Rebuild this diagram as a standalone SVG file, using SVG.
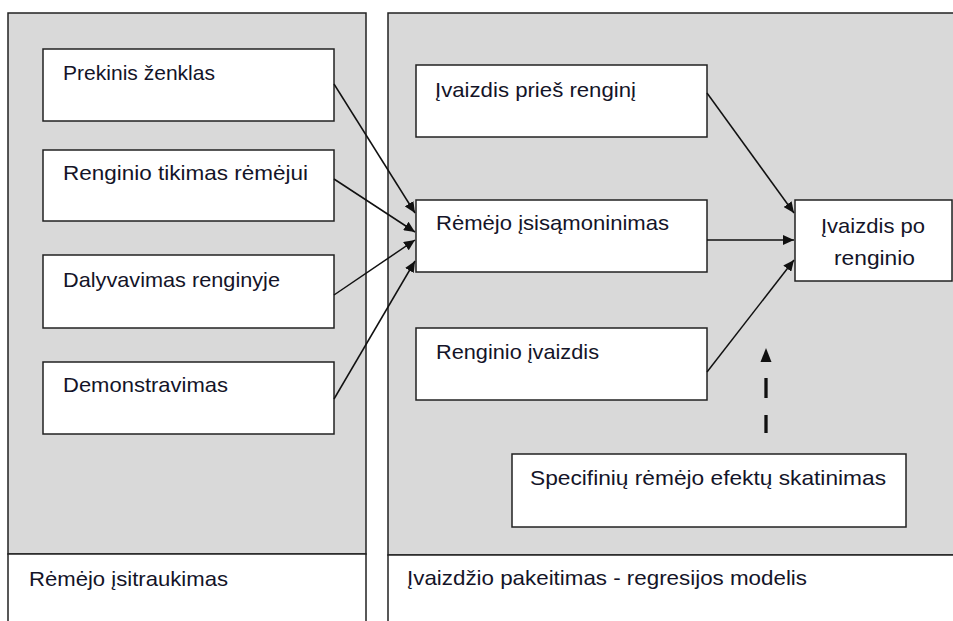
<svg xmlns="http://www.w3.org/2000/svg" width="953" height="621" viewBox="0 0 953 621">
<style>
.panel{fill:#d9d9d9;stroke:#222;stroke-width:1.5}
.foot{fill:#fff;stroke:#222;stroke-width:1.5}
.box{fill:#fff;stroke:#222;stroke-width:1.5}
.t{font-family:"Liberation Sans",Arial,sans-serif;font-size:21px;fill:#141428}
.c{stroke:#111;stroke-width:1.5;fill:none}
</style>
<defs>
<marker id="ah" markerUnits="userSpaceOnUse" markerWidth="12" markerHeight="10" refX="11" refY="5" orient="auto">
<path d="M0,0 L11,5 L0,10 Z" fill="#111"/>
</marker>
</defs>
<g id="panel-left">
<rect class="panel" x="8" y="13" width="358" height="541"/>
<rect class="foot" x="8" y="554" width="358" height="80"/>
<text class="t" x="29" y="586" textLength="199" lengthAdjust="spacingAndGlyphs">Rėmėjo įsitraukimas</text>
</g>
<g id="panel-right">
<rect class="panel" x="388" y="13" width="580" height="542"/>
<rect class="foot" x="388" y="555" width="580" height="80"/>
<text class="t" x="407" y="585" textLength="400" lengthAdjust="spacingAndGlyphs">Įvaizdžio pakeitimas - regresijos modelis</text>
</g>
<g id="n-prekinis">
<rect class="box" x="43" y="49" width="291" height="72"/>
<text class="t" x="63" y="80" textLength="152" lengthAdjust="spacingAndGlyphs">Prekinis ženklas</text>
</g>
<g id="n-tikimas">
<rect class="box" x="43" y="150" width="291" height="71"/>
<text class="t" x="63" y="180" textLength="245" lengthAdjust="spacingAndGlyphs">Renginio tikimas rėmėjui</text>
</g>
<g id="n-dalyvavimas">
<rect class="box" x="43" y="255" width="291" height="73"/>
<text class="t" x="63" y="287" textLength="217" lengthAdjust="spacingAndGlyphs">Dalyvavimas renginyje</text>
</g>
<g id="n-demonstravimas">
<rect class="box" x="43" y="362" width="291" height="72"/>
<text class="t" x="63" y="392" textLength="165" lengthAdjust="spacingAndGlyphs">Demonstravimas</text>
</g>
<g id="n-pries">
<rect class="box" x="416" y="65" width="291" height="72"/>
<text class="t" x="435" y="97" textLength="201" lengthAdjust="spacingAndGlyphs">Įvaizdis prieš  renginį</text>
</g>
<g id="n-isisamoninimas">
<rect class="box" x="416" y="200" width="291" height="72"/>
<text class="t" x="436" y="230" textLength="233" lengthAdjust="spacingAndGlyphs">Rėmėjo įsisąmoninimas</text>
</g>
<g id="n-renginio-ivaizdis">
<rect class="box" x="416" y="328" width="291" height="72"/>
<text class="t" x="436" y="359" textLength="163" lengthAdjust="spacingAndGlyphs">Renginio įvaizdis</text>
</g>
<g id="n-po">
<rect class="box" x="795" y="200" width="157" height="81"/>
<text class="t" x="821" y="233" textLength="104" lengthAdjust="spacingAndGlyphs">Įvaizdis po</text>
<text class="t" x="834" y="265" textLength="81" lengthAdjust="spacingAndGlyphs">renginio</text>
</g>
<g id="n-specifiniu">
<rect class="box" x="512" y="454" width="394" height="73"/>
<text class="t" x="530" y="485" textLength="356" lengthAdjust="spacingAndGlyphs">Specifinių rėmėjo efektų  skatinimas</text>
</g>
<g id="connectors">
<line class="c" x1="334" y1="84" x2="415" y2="213" marker-end="url(#ah)"/>
<line class="c" x1="334" y1="179" x2="415" y2="232" marker-end="url(#ah)"/>
<line class="c" x1="334" y1="295" x2="415" y2="240" marker-end="url(#ah)"/>
<line class="c" x1="334" y1="399" x2="415" y2="261" marker-end="url(#ah)"/>
<line class="c" x1="707" y1="93" x2="794" y2="213" marker-end="url(#ah)"/>
<line class="c" x1="707" y1="240" x2="794" y2="240" marker-end="url(#ah)"/>
<line class="c" x1="707" y1="372" x2="794" y2="260" marker-end="url(#ah)"/>
<line x1="766" y1="433" x2="766" y2="362" stroke="#111" stroke-width="3.3" stroke-dasharray="18 17 20 40"/>
<path d="M766,348 L760.5,362 L771.5,362 Z" fill="#111"/>
</g>
</svg>
